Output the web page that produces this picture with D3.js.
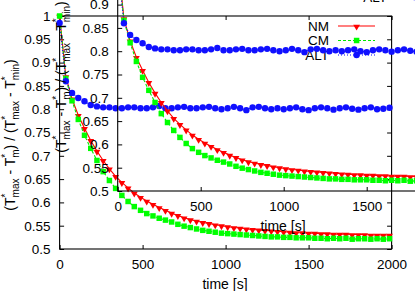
<!DOCTYPE html>
<html>
<head>
<meta charset="utf-8" />
<title>relaxation</title>
<script src="https://d3js.org/d3.v7.min.js"></script>
<style>
  body { margin: 0; background: #fff; }
  svg { display: block; font-family: "Liberation Sans", Arial, sans-serif; }
  text { fill: #000; }
</style>
</head>
<body>
<script>
// sampled times [s]
const times = [0, 37.5, 75, 112.5, 150, 187.5, 225, 262.5, 300, 337.5,
  375, 412.5, 450, 487.5, 525, 562.5, 600, 637.5, 675, 712.5,
  750, 787.5, 825, 862.5, 900, 937.5, 975, 1012.5, 1050, 1087.5,
  1125, 1162.5, 1200, 1237.5, 1275, 1312.5, 1350, 1387.5, 1425, 1462.5,
  1500, 1537.5, 1575, 1612.5, 1650, 1687.5, 1725, 1762.5, 1800, 1837.5,
  1875, 1912.5, 1950, 1987.5];

const nm = [1.000, 0.870, 0.822, 0.787, 0.759, 0.733, 0.710, 0.690, 0.672, 0.656,
  0.643, 0.631, 0.620, 0.611, 0.603, 0.596, 0.589, 0.583, 0.577, 0.572,
  0.567, 0.563, 0.560, 0.557, 0.555, 0.552, 0.550, 0.548, 0.546, 0.545,
  0.543, 0.542, 0.541, 0.540, 0.539, 0.538, 0.537, 0.536, 0.535, 0.535,
  0.534, 0.534, 0.533, 0.533, 0.532, 0.532, 0.532, 0.531, 0.531, 0.531,
  0.530, 0.530, 0.530, 0.530];

const cm = [1.000, 0.866, 0.818, 0.778, 0.744, 0.716, 0.690, 0.666, 0.647, 0.630,
  0.615, 0.602, 0.591, 0.583, 0.576, 0.571, 0.566, 0.562, 0.558, 0.553,
  0.549, 0.546, 0.543, 0.540, 0.538, 0.536, 0.534, 0.533, 0.532, 0.531,
  0.530, 0.529, 0.528, 0.527, 0.526, 0.526, 0.525, 0.525, 0.524, 0.524,
  0.524, 0.523, 0.523, 0.522, 0.523, 0.522, 0.523, 0.521, 0.522, 0.522,
  0.521, 0.522, 0.521, 0.522];

const alt = [0.985, 0.860, 0.835, 0.824, 0.817, 0.809, 0.806, 0.804, 0.804, 0.802,
  0.802, 0.804, 0.804, 0.802, 0.802, 0.804, 0.807, 0.802, 0.802, 0.804,
  0.805, 0.802, 0.802, 0.804, 0.805, 0.802, 0.800, 0.802, 0.805, 0.802,
  0.798, 0.804, 0.805, 0.802, 0.800, 0.802, 0.800, 0.802, 0.804, 0.800,
  0.798, 0.802, 0.804, 0.802, 0.799, 0.802, 0.804, 0.801, 0.799, 0.802,
  0.804, 0.800, 0.801, 0.803];

const seriesNames = ["NM", "CM", "ALT"];
const xTicks = [0, 500, 1000, 1500, 2000];
const xTickLabels = ["0", "500", "1000", "1500", "2000"];
const yTicks = [0.5, 0.55, 0.6, 0.65, 0.7, 0.75, 0.8, 0.85, 0.9, 0.95, 1];
const yTickLabels = ["0.5", "0.55", "0.6", "0.65", "0.7", "0.75", "0.8", "0.85", "0.9", "0.95", "1"];

const width = 415, height = 291;

const svg = d3.select("body").append("svg")
  .attr("width", width)
  .attr("height", height);

// the figure is the same plot twice, second copy shifted up/right
const panels = [
  { left: 59.6, right: 391.6, top: 16, bottom: 249, ylabX: 15, ylabY: 135, xlabX: 225, xlabY: 284 },
  { left: 117.7, right: 449.7, top: -42, bottom: 191, ylabX: 66, ylabY: 77, xlabX: 283, xlabY: 226.5 }
];

const styles = [
  { data: nm, color: "#ff0000", dash: null, marker: "tri" },
  { data: cm, color: "#00e800", dash: "3,2", marker: "square" },
  { data: alt, color: "#0000ff", dash: "1,2", marker: "circle" }
];

function drawMarker(g, kind, color, cx, cy) {
  if (kind === "tri") {
    g.append("path")
      .attr("d", d3.symbol(d3.symbolTriangle, 20)())
      .attr("transform", `translate(${cx},${cy + 0.6}) rotate(180)`)
      .attr("fill", color);
  } else if (kind === "square") {
    g.append("path")
      .attr("d", d3.symbol(d3.symbolSquare, 30)())
      .attr("transform", `translate(${cx},${cy})`)
      .attr("fill", "#00ff00");
  } else {
    g.append("circle")
      .attr("cx", cx).attr("cy", cy).attr("r", 3.2)
      .attr("fill", "#1010ff");
  }
}

function ylabel(g, x, y) {
  const t = g.append("text")
    .attr("transform", `translate(${x},${y}) rotate(-90)`)
    .attr("text-anchor", "middle")
    .style("font-size", "14px");
  const tstar = (sub, lead) => {
    t.append("tspan").text(lead + "T");
    t.append("tspan").text("*").style("font-size", "10px").attr("dy", -6.5);
    t.append("tspan").text(sub).style("font-size", "10px").attr("dx", -3.9).attr("dy", 10);
    return 3.5;
  };
  let back = tstar("max", "(");
  t.append("tspan").text(" - ").attr("dy", -back);
  back = tstar("m", "");
  t.append("tspan").text(") / (").attr("dy", -back);
  back = tstar("max", "");
  t.append("tspan").text(" - ").attr("dy", -back);
  back = tstar("min", "");
  t.append("tspan").text(")").attr("dy", -back);
}

panels.forEach(p => {
  const g = svg.append("g");
  const x = d3.scaleLinear().domain([0, 2000]).range([p.left, p.right]);
  const y = d3.scaleLinear().domain([0.5, 1]).range([p.bottom, p.top]);

  // axes with inward ticks (gnuplot style), mirrored
  const ax = [
    g.append("g").attr("transform", `translate(0,${p.bottom})`)
      .call(d3.axisBottom(x).tickValues(xTicks).tickSize(-4).tickPadding(10)
        .tickFormat((d, i) => xTickLabels[i])),
    g.append("g").attr("transform", `translate(0,${p.top})`)
      .call(d3.axisTop(x).tickValues(xTicks).tickSize(-4).tickFormat("")),
    g.append("g").attr("transform", `translate(${p.left},0)`)
      .call(d3.axisLeft(y).tickValues(yTicks).tickSize(-4.5).tickPadding(9)
        .tickFormat((d, i) => yTickLabels[i])),
    g.append("g").attr("transform", `translate(${p.right},0)`)
      .call(d3.axisRight(y).tickValues(yTicks).tickSize(-4.5).tickFormat(""))
  ];
  ax.forEach(a => {
    a.select(".domain").remove();
    a.selectAll("line").attr("stroke", "#000");
    a.selectAll("text").style("font-size", "13.5px")
      .style("font-family", "'Liberation Sans', Arial, sans-serif");
  });

  g.append("rect")
    .attr("x", p.left).attr("y", p.top)
    .attr("width", p.right - p.left).attr("height", p.bottom - p.top)
    .attr("fill", "none").attr("stroke", "#000").attr("stroke-width", 1.1);

  ylabel(g, p.ylabX, p.ylabY);
  g.append("text")
    .attr("x", p.xlabX).attr("y", p.xlabY).attr("dy", "0.35em")
    .attr("text-anchor", "middle")
    .style("font-size", "14px")
    .text("time [s]");

  // legend, top right
  const lg = g.append("g");
  seriesNames.forEach((name, i) => {
    const ly = p.top + 10 + 14.5 * i;
    const s = styles[i];
    lg.append("text")
      .attr("x", p.right - 62.6).attr("y", ly).attr("dy", "0.35em")
      .attr("text-anchor", "end")
      .style("font-size", "13.5px")
      .text(name);
    lg.append("line")
      .attr("x1", p.right - 53.6).attr("x2", p.right - 16.6)
      .attr("y1", ly).attr("y2", ly)
      .attr("stroke", s.color).attr("stroke-width", 1.2)
      .attr("stroke-dasharray", s.dash);
    drawMarker(lg, s.marker, s.color, p.right - 35, ly);
  });

  // series
  const line = d3.line().x((d, i) => x(times[i])).y(d => y(d));
  styles.forEach(s => {
    g.append("path")
      .datum(s.data)
      .attr("d", line)
      .attr("fill", "none")
      .attr("stroke", s.color)
      .attr("stroke-width", 1.1)
      .attr("stroke-dasharray", s.dash);
    const mg = g.append("g");
    s.data.forEach((v, i) => drawMarker(mg, s.marker, s.color, x(times[i]), y(v)));
  });
});
</script>
</body>
</html>
